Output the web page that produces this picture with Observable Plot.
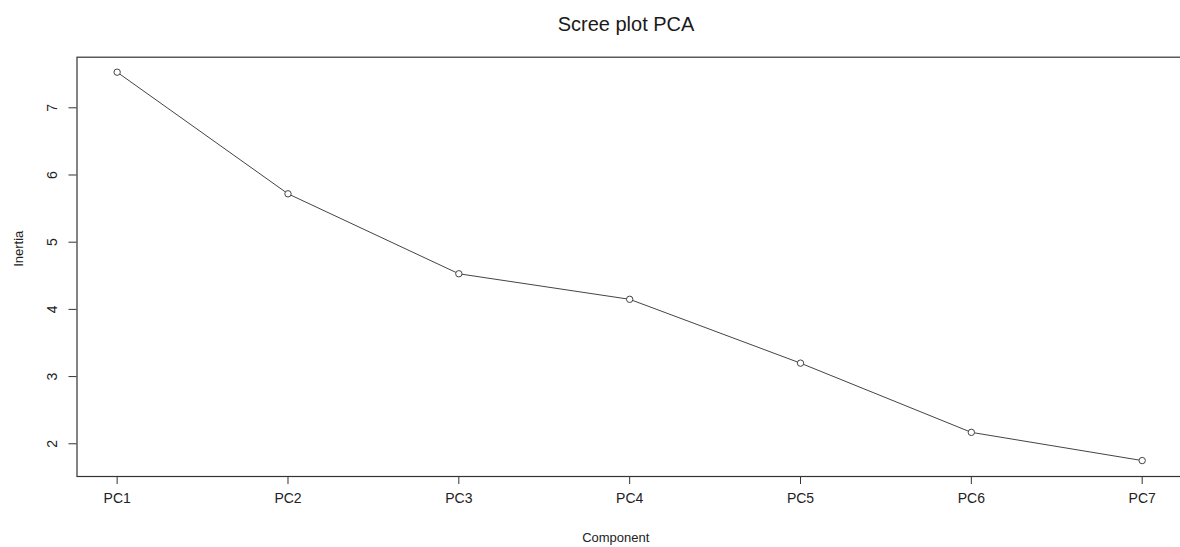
<!DOCTYPE html>
<html>
<head>
<meta charset="utf-8">
<script src="https://cdn.jsdelivr.net/npm/d3@7"></script>
<script src="https://cdn.jsdelivr.net/npm/@observablehq/plot@0.6"></script>
<style>
  html, body { margin: 0; padding: 0; background: #fff; }
  #wrap { width: 1180px; height: 547px; overflow: hidden; position: relative; }
  #title { height: 26px; padding-top: 14px; line-height: 20px; font-size: 20px;
           font-family: "Liberation Sans", Arial, sans-serif; color: #1a1a1a;
           width: 1180px; box-sizing: content-box; }
  #title span { position: absolute; left: 626px; transform: translateX(-50%); white-space: nowrap; }
  svg { display: block; }
</style>
</head>
<body>
<div id="wrap">
  <div id="title"><span>Scree plot PCA</span></div>
  <div id="chart"></div>
</div>
<script>
const components = ["PC1", "PC2", "PC3", "PC4", "PC5", "PC6", "PC7"];
const inertia = [7.53, 5.72, 4.53, 4.15, 3.20, 2.17, 1.75];
const yTicks = [2, 3, 4, 5, 6, 7];
const xLabel = "Component";
const yLabel = "Inertia";

const data = components.map((c, i) => ({ idx: i + 1, comp: c, value: inertia[i] }));
const xIdx = components.map((c, i) => i + 1);

const xDomain = [0.765, 7.236];
const yDomain = [1.513, 7.753];

const ink = "#333";
const chart = Plot.plot({
  width: 1180,
  height: 507,
  marginLeft: 76.5,
  marginRight: -2,
  marginTop: 16.7,
  marginBottom: 71,
  style: { fontFamily: "'Liberation Sans', Arial, sans-serif", fontSize: "14px", color: "#222", background: "#fff", overflow: "visible" },
  x: { type: "linear", domain: xDomain },
  y: { type: "linear", domain: yDomain },
  marks: [
    Plot.frame({ stroke: ink, strokeWidth: 1.2 }),
    Plot.axisX({ ticks: xIdx, tickFormat: d => components[d - 1], tickSize: 8, tickPadding: 9, label: null, fontSize: 14, stroke: ink }),
    Plot.axisY({ ticks: yTicks, tickSize: 8, tickFormat: () => "", label: null, stroke: ink }),
    Plot.text(yTicks, { x: () => xDomain[0], y: d => d, text: d => String(d), rotate: -90, dx: -24.8, fontSize: 14, textAnchor: "middle", lineAnchor: "middle", fill: "#222" }),
    Plot.text([xLabel], { frameAnchor: "bottom", dy: 61, text: d => d, fontSize: 13, lineAnchor: "middle", fill: "#222", dx: -14 }),
    Plot.text([yLabel], { frameAnchor: "left", dx: -58.5, rotate: -90, text: d => d, fontSize: 13, lineAnchor: "middle", fill: "#222" }),
    Plot.line(data, { x: "idx", y: "value", stroke: "#444", strokeWidth: 1 }),
    Plot.dot(data, { x: "idx", y: "value", r: 3.2, stroke: "#444", strokeWidth: 1, fill: "#fff" })
  ]
});
document.getElementById("chart").appendChild(chart);
</script>
</body>
</html>
